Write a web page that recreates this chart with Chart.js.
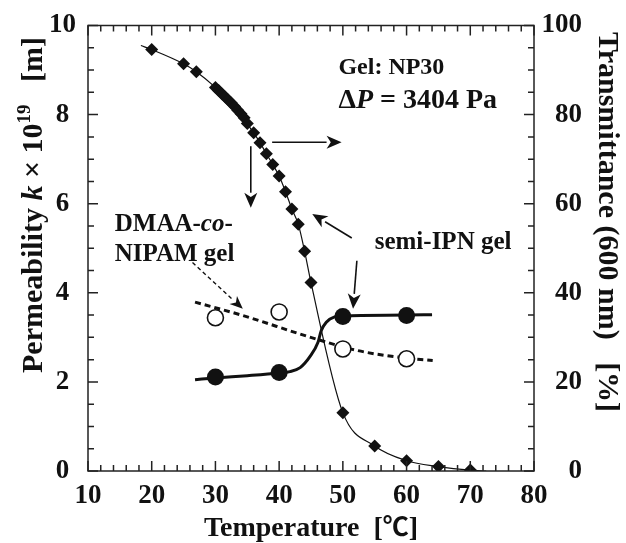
<!DOCTYPE html>
<html>
<head>
<meta charset="utf-8">
<script src="https://cdn.jsdelivr.net/npm/chart.js@4.4.4/dist/chart.umd.min.js"></script>
<style>
  html, body { margin: 0; padding: 0; background: #fff; }
  #wrap { width: 626px; height: 543px; }
</style>
</head>
<body>
<div id="wrap"><canvas id="chart" width="626" height="543"></canvas></div>
<script>
/* ── Data ─────────────────────────────────────────────────────────── */
// Transmittance of semi-IPN gel (diamonds, right axis, %)
const transTemp = [20, 25, 27, 30, 30.5, 31, 31.5, 32, 32.5, 33, 33.5, 34, 34.5, 35, 36, 37, 38, 39, 40, 41, 42, 43, 44, 45, 50, 55, 60, 65, 70];
const transVal  = [94.6, 91.4, 89.6, 86.1, 85.4, 84.7, 84.0, 83.3, 82.6, 81.8, 81.0, 80.2, 79.3, 78.0, 75.9, 73.7, 71.2, 68.8, 66.2, 62.7, 58.8, 55.4, 49.3, 42.3, 13.1, 5.6, 2.3, 1.0, 0.2];
// ends of the drawn guide curve beyond the first / last diamond
const transCurveEndsT = [18.3, 72.5];
const transCurveEndsV = [95.5, 0];

// Permeability, semi-IPN gel (filled circles, left axis)
const ipnTemp = [30, 40, 50, 60];
const ipnK    = [2.11, 2.21, 3.47, 3.49];
const ipnCurveT = [26.8, 30, 35, 40, 41.7, 43.3, 44.8, 46.1, 46.6, 47.4, 48.7, 50, 60, 64];
const ipnCurveK = [2.05, 2.09, 2.14, 2.2, 2.23, 2.32, 2.56, 2.89, 3.15, 3.34, 3.46, 3.48, 3.5, 3.51];

// Permeability, DMAA-co-NIPAM gel (open circles, left axis)
const dmaaTemp = [30, 40, 50, 60];
const dmaaK    = [3.44, 3.57, 2.74, 2.52];
const dmaaCurveT = [26.8, 34.3, 44.5, 52.1, 58.4, 64.1];
const dmaaCurveK = [3.79, 3.49, 3.02, 2.71, 2.56, 2.48];

const xTicks = [10, 20, 30, 40, 50, 60, 70, 80];
const kTicks = [0, 2, 4, 6, 8, 10];
const tTicks = [0, 20, 40, 60, 80, 100];

/* ── Helpers ──────────────────────────────────────────────────────── */
const SERIF = "'Liberation Serif', 'Times New Roman', serif";
const INK = "#111";
const pts = (xs, ys) => xs.map((x, i) => ({ x, y: ys[i] }));

function arrow(ctx, x1, y1, x2, y2, opt = {}) {
  const ang = Math.atan2(y2 - y1, x2 - x1);
  const len = opt.head || 15, hw = opt.hw || 6.5;
  const bx = x2 - Math.cos(ang) * len, by = y2 - Math.sin(ang) * len;
  ctx.save();
  ctx.strokeStyle = INK; ctx.fillStyle = INK;
  ctx.lineWidth = opt.width || 1.6;
  ctx.setLineDash(opt.dash || []);
  ctx.beginPath(); ctx.moveTo(x1, y1); ctx.lineTo(bx, by); ctx.stroke();
  ctx.setLineDash([]);
  ctx.beginPath();
  ctx.moveTo(x2, y2);
  ctx.lineTo(bx + Math.sin(ang) * hw, by - Math.cos(ang) * hw);
  ctx.lineTo(x2 - Math.cos(ang) * len * 0.72, y2 - Math.sin(ang) * len * 0.72);
  ctx.lineTo(bx - Math.sin(ang) * hw, by + Math.cos(ang) * hw);
  ctx.closePath(); ctx.fill();
  ctx.restore();
}

// draw a run of [text, font, dy] pieces starting at x
function runs(ctx, x, y, parts) {
  parts.forEach(([txt, font, dy]) => {
    ctx.font = font;
    ctx.fillText(txt, x, y + (dy || 0));
    x += ctx.measureText(txt).width;
  });
  return x;
}
function runsWidth(ctx, parts) {
  let w = 0;
  parts.forEach(([txt, font]) => { ctx.font = font; w += ctx.measureText(txt).width; });
  return w;
}

/* ── Decorations: frame, inward ticks, labels, arrows ─────────────── */
const decor = {
  id: "decor",
  afterDatasetsDraw(chart) {
    const { ctx, chartArea: a, scales } = chart;
    const X = scales.x, K = scales.yK, T = scales.yT;
    ctx.save();
    ctx.strokeStyle = "#222"; ctx.lineWidth = 1.5;
    ctx.strokeRect(a.left, a.top, a.right - a.left, a.bottom - a.top);

    ctx.beginPath();
    for (let v = 10; v <= 80; v += 2) {
      const px = X.getPixelForValue(v), l = v % 10 === 0 ? 10 : 6;
      ctx.moveTo(px, a.bottom); ctx.lineTo(px, a.bottom - l);
      ctx.moveTo(px, a.top);    ctx.lineTo(px, a.top + l);
    }
    for (let v = 0; v <= 10; v += 0.5) {
      const py = K.getPixelForValue(v), l = v % 2 === 0 ? 10 : 6;
      ctx.moveTo(a.left, py); ctx.lineTo(a.left + l, py);
    }
    for (let v = 0; v <= 100; v += 5) {
      const py = T.getPixelForValue(v), l = v % 20 === 0 ? 10 : 6;
      ctx.moveTo(a.right, py); ctx.lineTo(a.right - l, py);
    }
    ctx.stroke();

    // text annotations
    const px = v => X.getPixelForValue(v), py = v => K.getPixelForValue(v);
    ctx.fillStyle = INK; ctx.textBaseline = "alphabetic"; ctx.textAlign = "left";
    const b = s => `bold ${s}px ${SERIF}`, bi = s => `italic bold ${s}px ${SERIF}`;
    runs(ctx, px(49.3), py(8.91), [["Gel: NP30", b(24)]]);
    runs(ctx, px(49.3), py(8.15), [["\u0394", b(28)], ["P", bi(28)], [" = 3404 Pa", b(28)]]);
    runs(ctx, px(14.2), py(5.39), [["DMAA-", b(25)], ["co", bi(25)], ["-", b(25)]]);
    runs(ctx, px(14.2), py(4.72), [["NIPAM gel", b(25)]]);
    runs(ctx, px(55.0), py(4.98), [["semi-IPN gel", b(25)]]);

    // arrows
    arrow(ctx, px(38.9), py(7.38), px(49.8), py(7.38));
    arrow(ctx, px(35.55), py(7.29), px(35.55), py(5.91));
    arrow(ctx, px(51.4), py(5.23), px(45.2), py(5.77));
    arrow(ctx, px(52.2), py(4.72), px(51.6), py(3.64));
    arrow(ctx, px(26.4), py(4.68), px(34.3), py(3.64), { dash: [4, 3], head: 13, hw: 5.5, width: 1.4 });

    // axis titles
    const xt = [["Temperature  [", b(28)], ["\u2103", `bold 26px 'Noto Sans CJK JP', ${SERIF}`], ["]", b(28)]];
    runs(ctx, (a.left + a.right) / 2 - runsWidth(ctx, xt) / 2, 536, xt);

    const lt = [["Permeability ", b(30)], ["k", bi(30)], [" \u00d7 10", b(30)], ["19", b(19), -12], ["   [m]", b(30)]];
    ctx.save();
    ctx.translate(42, 205); ctx.rotate(-Math.PI / 2);
    runs(ctx, -runsWidth(ctx, lt) / 2, 0, lt);
    ctx.restore();

    const rt = [["Transmittance (600 nm)   [%]", b(30)]];
    ctx.save();
    ctx.translate(599, 222); ctx.rotate(Math.PI / 2);
    runs(ctx, -runsWidth(ctx, rt) / 2, 0, rt);
    ctx.restore();

    ctx.restore();
  }
};

/* ── Chart ────────────────────────────────────────────────────────── */
const tickFont = { family: SERIF, size: 27, weight: "bold", lineHeight: 1 };

new Chart(document.getElementById("chart"), {
  type: "scatter",
  data: {
    datasets: [
      { label: "trans", yAxisID: "yT", data: pts(transTemp, transVal), order: 2,
        pointStyle: "rectRot", pointRadius: 6.5, backgroundColor: INK, borderColor: INK, borderWidth: 0, showLine: false },
      { label: "trans curve", yAxisID: "yT", order: 6,
        data: pts([transCurveEndsT[0], ...transTemp, transCurveEndsT[1]], [transCurveEndsV[0], ...transVal, transCurveEndsV[1]]),
        showLine: true, pointRadius: 0, borderColor: INK, borderWidth: 1.2, cubicInterpolationMode: "monotone" },
      { label: "semi-IPN", yAxisID: "yK", data: pts(ipnTemp, ipnK), order: 1,
        pointStyle: "circle", pointRadius: 8.5, backgroundColor: INK, borderColor: INK, borderWidth: 0, showLine: false },
      { label: "semi-IPN curve", yAxisID: "yK", data: pts(ipnCurveT, ipnCurveK), order: 5,
        showLine: true, pointRadius: 0, borderColor: INK, borderWidth: 3, cubicInterpolationMode: "monotone" },
      { label: "DMAA", yAxisID: "yK", data: pts(dmaaTemp, dmaaK), order: 1,
        pointStyle: "circle", pointRadius: 8, backgroundColor: "#fff", borderColor: INK, borderWidth: 1.6, showLine: false },
      { label: "DMAA curve", yAxisID: "yK", data: pts(dmaaCurveT, dmaaCurveK), order: 5,
        showLine: true, pointRadius: 0, borderColor: INK, borderWidth: 3, borderDash: [6, 4], cubicInterpolationMode: "monotone" }
    ]
  },
  options: {
    responsive: false,
    animation: false,
    devicePixelRatio: 1,
    layout: { padding: { top: 24, left: 0, right: 44, bottom: 0 } },
    plugins: { legend: { display: false }, tooltip: { enabled: false } },
    scales: {
      x: {
        type: "linear", min: 10, max: 80,
        afterBuildTicks: s => { s.ticks = xTicks.map(value => ({ value })); },
        afterFit: s => { s.height = 72; },
        grid: { display: false, drawTicks: false }, border: { display: false },
        ticks: { font: tickFont, color: INK, padding: 12, maxRotation: 0 }
      },
      yK: {
        position: "left", min: 0, max: 10,
        afterBuildTicks: s => { s.ticks = kTicks.map(value => ({ value })); },
        afterFit: s => { s.width = 88; },
        grid: { display: false, drawTicks: false }, border: { display: false },
        ticks: { font: tickFont, color: INK, padding: 12, crossAlign: "center" }
      },
      yT: {
        position: "right", min: 0, max: 100,
        afterBuildTicks: s => { s.ticks = tTicks.map(value => ({ value })); },
        afterFit: s => { s.width = 48; },
        grid: { display: false, drawTicks: false }, border: { display: false },
        ticks: { font: tickFont, color: INK, padding: 6, crossAlign: "far" }
      }
    }
  },
  plugins: [decor]
});
</script>
</body>
</html>
